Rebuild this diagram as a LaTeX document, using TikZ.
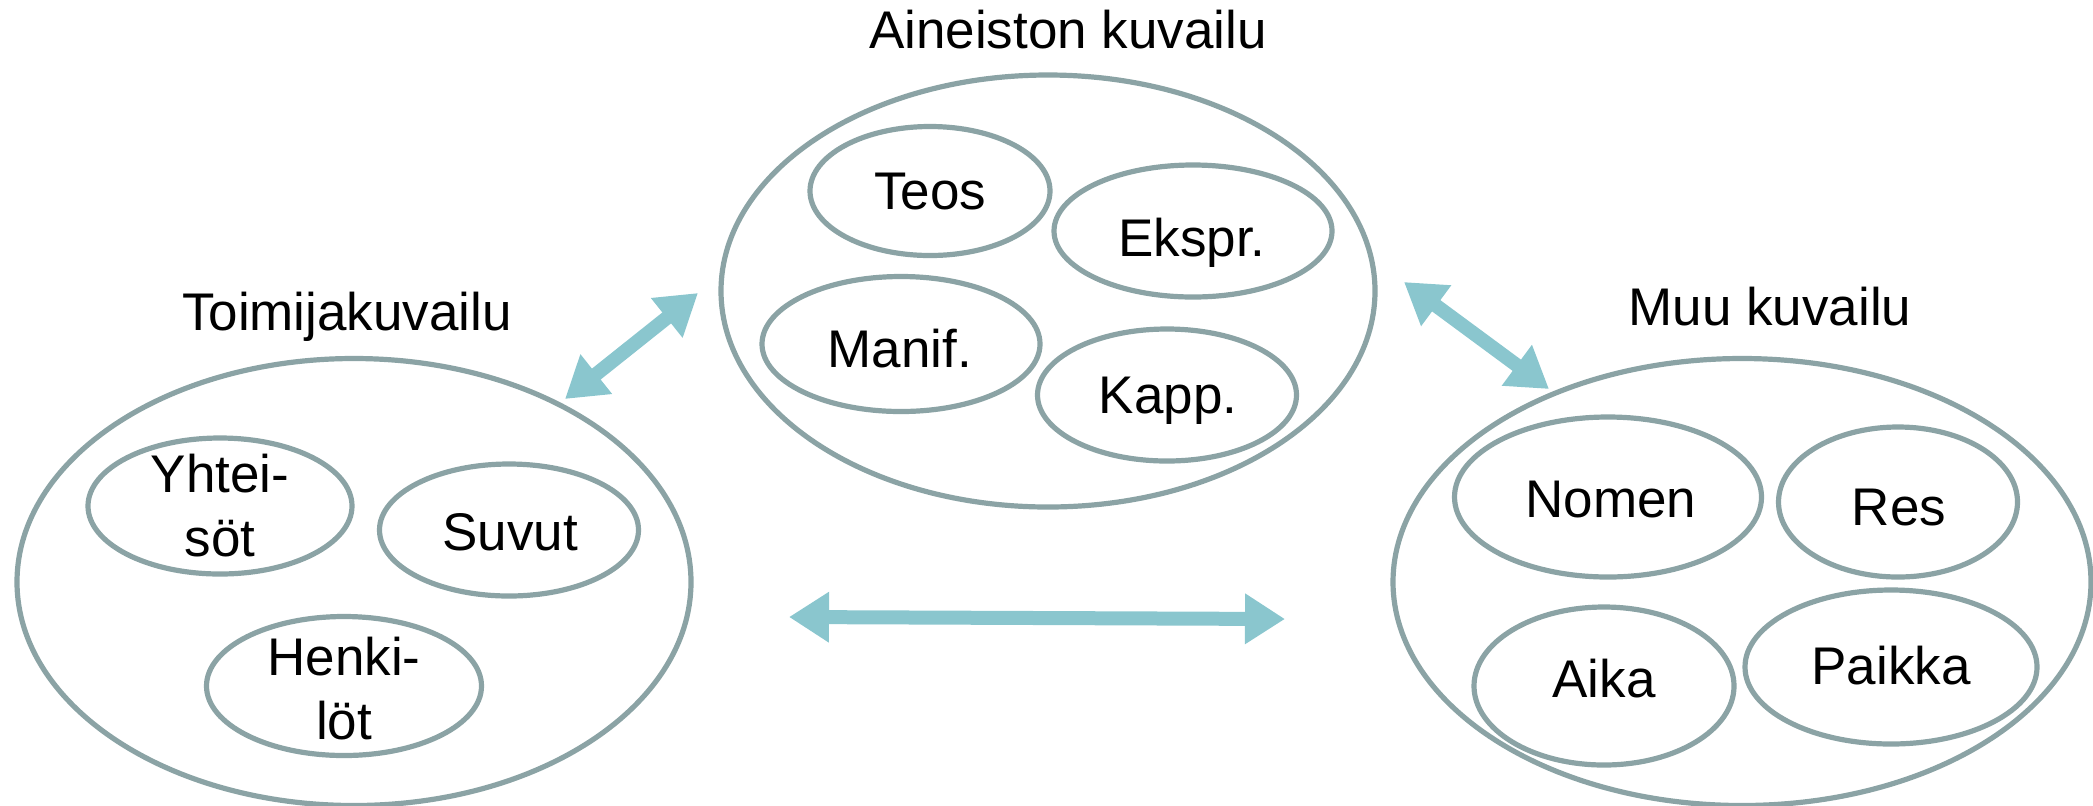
\documentclass[tikz,border=0pt]{standalone}
\usepackage{fontspec}
\setmainfont{Liberation Sans}
\usetikzlibrary{shapes.geometric,arrows.meta}
\definecolor{outl}{HTML}{8BA3A5}
\definecolor{arrcol}{HTML}{8AC6CE}
\begin{document}
\begin{tikzpicture}[x=0.5pt,y=-0.5pt,
  txt/.style={font=\fontsize{26.5}{32}\selectfont, text height=19pt, text depth=0pt, inner sep=0pt},
  txtb/.style={font=\fontsize{26.5}{32}\selectfont, align=center, inner sep=0pt},
  blob/.style={ellipse, draw=outl, line width=2.6pt, inner sep=0pt},
  dbl/.style={draw=arrcol, line width=7pt, {Triangle[length=20pt,width=24pt]}-{Triangle[length=20pt,width=24pt]}}]
\useasboundingbox (0,0) rectangle (2093,805);
% big ellipses
\node[blob, minimum width=327pt, minimum height=216pt] (A) at (1048,291) {};
\node[blob, minimum width=337pt, minimum height=223.5pt] (T) at (354,582) {};
\node[blob, minimum width=349pt, minimum height=223.5pt] (M) at (1742,582) {};
% titles
\node[txt] (At) at (1068,29) {Aineiston kuvailu};
\node[txt] (Tt) at (347,311) {Toimijakuvailu};
\node[txt] (Mt) at (1770,306) {Muu kuvailu};
% inner ellipses
\node[blob, minimum width=120pt, minimum height=64.5pt] (teos) at (930,191) {};
\node[blob, minimum width=139pt, minimum height=66pt] (ekspr) at (1193,231) {};
\node[blob, minimum width=139pt, minimum height=67.5pt] (manif) at (901,344) {};
\node[blob, minimum width=129.5pt, minimum height=66pt] (kapp) at (1167,395) {};
\node[blob, minimum width=132pt, minimum height=68pt] (yht) at (220,506) {};
\node[blob, minimum width=129.5pt, minimum height=66pt] (suv) at (509,530) {};
\node[blob, minimum width=137.5pt, minimum height=69.5pt] (hen) at (344,686) {};
\node[blob, minimum width=153.5pt, minimum height=80pt] (nom) at (1608,497) {};
\node[blob, minimum width=119.5pt, minimum height=75pt] (res) at (1898,502) {};
\node[blob, minimum width=130pt, minimum height=79pt] (aika) at (1604,686) {};
\node[blob, minimum width=146pt, minimum height=77pt] (paik) at (1891,667) {};
% labels
\node[txt] (teosT) at (930,190) {Teos};
\node[txt] (eksprT) at (1192,237) {Ekspr.};
\node[txt] (manifT) at (900,348) {Manif.};
\node[txt] (kappT) at (1168,394) {Kapp.};
\node[txtb] (yhtT) at (220,506) {Yhtei-\\söt};
\node[txt] (suvT) at (510,531) {Suvut};
\node[txtb] (henT) at (344,689) {Henki-\\löt};
\node[txt] (nomT) at (1611,498) {Nomen};
\node[txt] (resT) at (1899,506) {Res};
\node[txt] (aikaT) at (1604,678) {Aika};
\node[txt] (paikT) at (1891,665) {Paikka};
% arrow end points
\coordinate (l1) at (565,399);
\coordinate (l2) at (698,293);
\coordinate (r1) at (1404,282);
\coordinate (r2) at (1549,389);
\coordinate (h1) at (789,617);
\coordinate (h2) at (1285,619);
\draw[dbl] (l1) -- (l2);
\draw[dbl] (r1) -- (r2);
\draw[dbl] (h1) -- (h2);
\end{tikzpicture}
\end{document}
